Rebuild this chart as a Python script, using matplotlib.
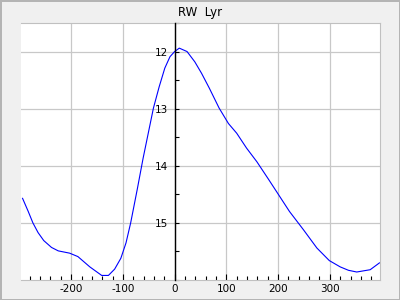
import matplotlib
matplotlib.use("Agg")
import matplotlib.pyplot as plt
from matplotlib.ticker import MultipleLocator

# phase (days) and magnitude
phase = [-294, -283, -274, -264, -253, -238, -225, -203, -187, -164, -141,
         -128, -116, -104, -94, -85, -72, -61, -51, -41, -30, -19, -9, 0,
         9, 24, 39, 52, 67, 86, 104, 120, 139, 159, 181, 199, 222, 249,
         275, 299, 320, 336, 352, 378, 396]
mag = [14.57, 14.80, 15.00, 15.17, 15.31, 15.43, 15.49, 15.53, 15.59, 15.77,
       15.92, 15.92, 15.81, 15.62, 15.35, 15.00, 14.40, 13.87, 13.43, 12.99,
       12.62, 12.29, 12.09, 12.00, 11.94, 12.00, 12.18, 12.38, 12.64, 12.99,
       13.26, 13.43, 13.69, 13.93, 14.23, 14.48, 14.80, 15.12, 15.44, 15.66,
       15.77, 15.83, 15.86, 15.82, 15.70]
y_ticks = [12, 13, 14, 15]
x_ticks = [-200, -100, 0, 100, 200, 300]

plt.rcParams["axes.unicode_minus"] = False

fig = plt.figure(figsize=(4, 3), dpi=100)
fig.patch.set_facecolor("#f0f0f0")
fig.patch.set_edgecolor("#b4b4b4")
fig.patch.set_linewidth(2)

ax = fig.add_axes([21 / 400, 20 / 300, 359 / 400, 257 / 300])
ax.set_facecolor("white")

ax.plot(phase, mag, color="#0000ff", linewidth=0.8)

ax.set_xlim(-297, 397)
ax.set_ylim(16, 11.5)
ax.set_xticks(x_ticks)
ax.set_yticks(y_ticks)
ax.xaxis.set_minor_locator(MultipleLocator(20))
ax.yaxis.set_minor_locator(MultipleLocator(0.5))

ax.grid(True, which="major", color="#c8c8c8", linewidth=0.9)
ax.set_axisbelow(True)

for side in ["top", "right", "bottom"]:
    ax.spines[side].set_color("#c0c0c0")
ax.spines["left"].set_position(("data", 0))
ax.spines["left"].set_color("black")
ax.spines["left"].set_linewidth(1.0)
ax.spines["left"].set_zorder(3)

ax.tick_params(axis="x", which="major", direction="in", length=4, width=0.8,
               labelsize=7.5, pad=3, color="black")
ax.tick_params(axis="x", which="minor", direction="in", length=3, width=0.8,
               color="black")
ax.tick_params(axis="y", which="major", direction="in", length=3, width=0.8,
               labelsize=7.5, pad=5)
ax.tick_params(axis="y", which="minor", direction="in", length=3, width=0.8)

ax.set_title("RW  Lyr", fontsize=8.5, pad=5)

fig.savefig("out.png", dpi=100, facecolor=fig.get_facecolor(),
            edgecolor=fig.get_edgecolor())
